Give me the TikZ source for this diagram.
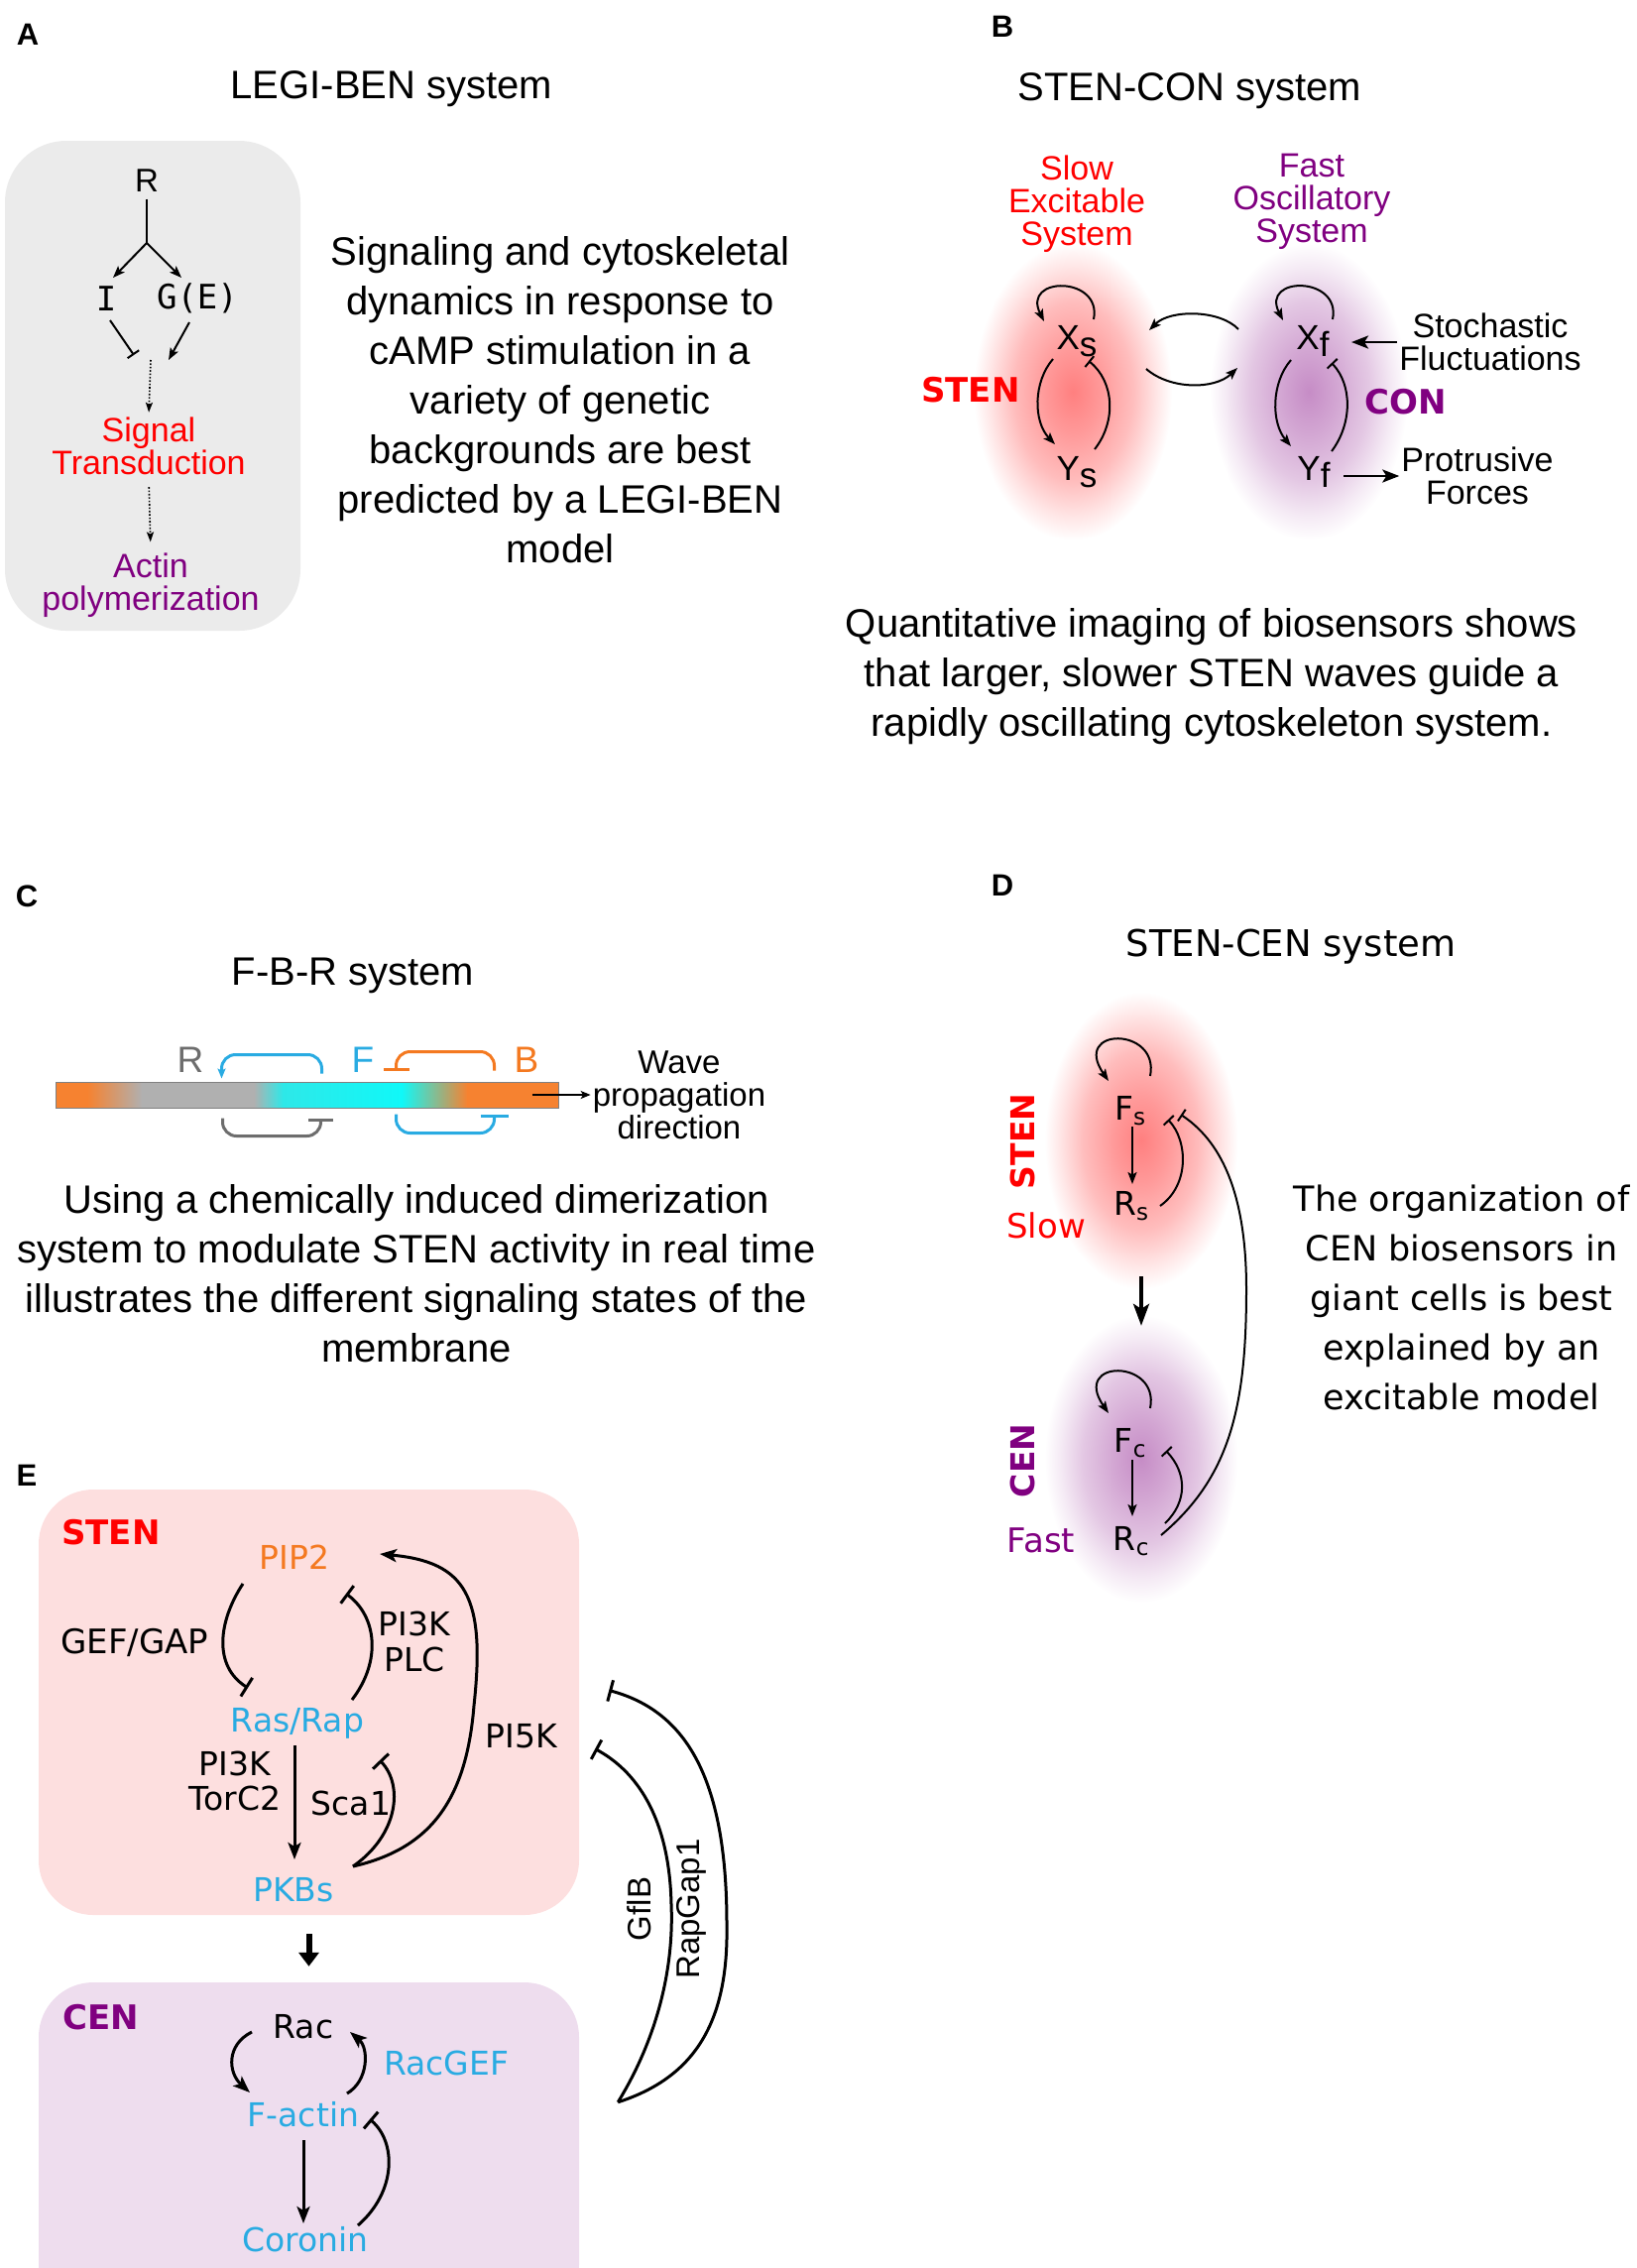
\documentclass[tikz,border=0pt]{standalone}
\usepackage{fontspec}
\setmainfont{Liberation Sans}
\newfontfamily\dv{DejaVu Sans}
\newfontfamily\dvm{DejaVu Sans Mono}
\usetikzlibrary{arrows.meta,calc,shapes.geometric}
\definecolor{sred}{HTML}{FF0000}
\definecolor{spurp}{HTML}{800080}
\definecolor{ecyan}{HTML}{29ABE2}
\definecolor{eorange}{HTML}{F47920}
\definecolor{agray}{HTML}{EBEBEB}
\definecolor{stenbg}{HTML}{FDDFDF}
\definecolor{cenbg}{HTML}{EEDDEE}
\definecolor{cgray}{HTML}{6D6D6D}
\definecolor{barorange}{HTML}{F68230}
\definecolor{bargray}{HTML}{B0B0B0}
\definecolor{barcyan}{HTML}{2EE8E8}
\definecolor{barcyan2}{HTML}{10F8F8}
\colorlet{gr0}{red!50!white}
\colorlet{gr1}{red!40!white}
\colorlet{gr2}{red!26!white}
\colorlet{gr3}{red!10!white}
\colorlet{gp0}{spurp!45!white}
\colorlet{gp1}{spurp!35!white}
\colorlet{gp2}{spurp!22!white}
\colorlet{gp3}{spurp!8!white}
\pgfdeclareradialshading{glowred}{\pgfpoint{0bp}{0bp}}{color(0bp)=(gr0); color(7bp)=(gr1); color(15bp)=(gr2); color(21bp)=(gr3); color(25bp)=(white); color(50bp)=(white)}
\pgfdeclareradialshading{glowpur}{\pgfpoint{0bp}{0bp}}{color(0bp)=(gp0); color(7bp)=(gp1); color(15bp)=(gp2); color(21bp)=(gp3); color(25bp)=(white); color(50bp)=(white)}
\begin{document}
\begin{tikzpicture}[x=1pt,y=-1pt,
  every node/.style={inner sep=2pt},
  lbl/.style={font=\bfseries\fontsize{31}{31}\selectfont},
  ttl/.style={font=\fontsize{40}{48}\selectfont},
  ttlD/.style={font=\dv\fontsize{37}{40}\selectfont},
  body/.style={align=center,font=\fontsize{40}{50}\selectfont},
  bodyD/.style={align=center,font=\dv\fontsize{35}{50}\selectfont},
  small/.style={align=center,font=\fontsize{34}{33}\selectfont},
  fx/.style={font=\fontsize{35}{35}\selectfont},
  fD/.style={font=\dv\fontsize{33}{33}\selectfont},
  fE/.style={align=center,font=\dv\fontsize{33}{36}\selectfont},
  boldlab/.style={font=\dv\bfseries\fontsize{34}{34}\selectfont},
  glowR/.style={ellipse,shading=glowred,inner sep=0},
  glowP/.style={ellipse,shading=glowpur,inner sep=0},
  ln/.style={line width=2pt},
  lnE/.style={line width=3pt},
  arrA/.style={-{Stealth[length=12pt,width=9pt,inset=2.5pt]}},
  inhA/.style={-{Bar[width=14pt]}},
  arrE/.style={-{Stealth[length=17pt,width=13pt,inset=4pt]}},
  inhE/.style={-{Bar[width=22pt]}},
  dotarr/.style={line width=1.6pt,dash pattern=on 1.6pt off 1.8pt,-{Stealth[length=10pt,width=7pt,inset=2pt]}},
  arcC/.style={line width=3pt,rounded corners=14pt}
]
\useasboundingbox (0,0) rectangle (1650,2287);

% ================= Panel A =================
\node[lbl] (labA) at (28,35) {A};
\node[ttl] (ttlA) at (395,90) {LEGI-BEN system};
\node[fill=agray,rounded corners=62pt,minimum width=298,minimum height=494,inner sep=0] (boxA) at (154,389) {};
\node[font=\fontsize{33}{33}\selectfont] (R) at (148,182) {R};
\coordinate (fork) at (148,245);
\node[font=\dvm\fontsize{34}{34}\selectfont] (I) at (107,301) {I};
\node[font=\dvm\fontsize{34}{34}\selectfont] (GE) at (199,301) {G(E)};
\draw[ln,shorten <=5pt] (R.south) -- (fork);
\draw[ln,arrA] (fork) -- ($(I)+(7,-21)$);
\draw[ln,arrA] (fork) -- ($(GE)+(-16,-21)$);
\coordinate (merge) at (152,363);
\draw[ln,inhA] ($(I)+(4,22)$) -- ($(merge)+(-17,-5)$);
\draw[ln,arrA] ($(GE)+(-8,24)$) -- ($(merge)+(18,0)$);
\node[small,text=sred] (sig) at (150,450) {Signal\\Transduction};
\node[small,text=spurp] (act) at (152,590) {Actin\\polymerization};
\draw[dotarr,shorten >=3pt] (merge) -- (sig.north);
\draw[dotarr,shorten <=10pt,shorten >=9pt] (sig.south) -- (act.north);
\node[body] (txtA) at (565,403) {Signaling and cytoskeletal\\dynamics in response to\\cAMP stimulation in a\\variety of genetic\\backgrounds are best\\predicted by a LEGI-BEN\\model};

% ================= Panel B =================
\node[glowR,minimum width=200,minimum height=300] (gS) at (1082,395) {};
\node[glowP,minimum width=200,minimum height=300] (gF) at (1320,395) {};
\node[lbl] (labB) at (1011,27) {B};
\node[ttl] (ttlB) at (1200,92) {STEN-CON system};
\node[small,text=sred] (slowB) at (1086,206) {Slow\\Excitable\\System};
\node[small,text=spurp] (fastB) at (1323,203) {Fast\\Oscillatory\\System};
\node[fx] (xs) at (1086,344) {X\raisebox{-0.2em}{s}};
\node[fx] (ys) at (1086,476) {Y\raisebox{-0.2em}{s}};
\node[fx] (xf) at (1324,344) {X\raisebox{-0.2em}{f}};
\node[fx] (yf) at (1325,476) {Y\raisebox{-0.2em}{f}};
\node[boldlab,text=sred] (stenB) at (979,393) {STEN};
\node[boldlab,text=spurp] (conB) at (1418,405) {CON};
% self loops
\draw[ln,arrA] ($(xs)+(17,-22)$) .. controls ($(xs)+(26,-66)$) and ($(xs)+(-56,-66)$) .. ($(xs)+(-33,-20)$);
\draw[ln,arrA] ($(xf)+(20,-22)$) .. controls ($(xf)+(29,-66)$) and ($(xf)+(-53,-66)$) .. ($(xf)+(-30,-21)$);
% X -> Y
\draw[ln,arrA] ($(xs)+(-24,18)$) .. controls ($(xs)+(-44,41)$) and ($(ys)+(-44,-51)$) .. ($(ys)+(-22,-28)$);
\draw[ln,arrA] ($(xf)+(-22,19)$) .. controls ($(xf)+(-42,42)$) and ($(yf)+(-43,-50)$) .. ($(yf)+(-23,-26)$);
% Y -| X
\draw[ln,inhA] ($(ys)+(18,-23)$) .. controls ($(ys)+(40,-51)$) and ($(xs)+(38,41)$) .. ($(xs)+(12,20)$);
\draw[ln,inhA] ($(yf)+(18,-21)$) .. controls ($(yf)+(39,-49)$) and ($(xf)+(40,44)$) .. ($(xf)+(19,22)$);
% coupling
\draw[ln,arrA] ($(xf)+(-75,-12)$) .. controls ($(xf)+(-94,-32)$) and ($(xs)+(94,-32)$) .. ($(xs)+(73,-11)$);
\draw[ln,arrA] ($(xs)+(70,28)$) .. controls ($(xs)+(94,49)$) and ($(xf)+(-99,49)$) .. ($(xf)+(-76,27)$);
\node[small] (stoch) at (1503,345) {Stochastic\\Fluctuations};
\node[small] (prot) at (1490,480) {Protrusive\\Forces};
\draw[line width=2.8pt,-{Stealth[length=17pt,width=13pt,inset=4pt]}] (stoch.west) -- ($(xf.center |- stoch.west)+(39,0)$);
\draw[line width=2.8pt,-{Stealth[length=17pt,width=13pt,inset=4pt]}] ($(yf.center |- prot.west)+(30,0)$) -- (prot.west);
\node[body] (txtB) at (1222,682) {Quantitative imaging of biosensors shows\\that larger, slower STEN waves guide a\\rapidly oscillating cytoskeleton system.};

% ================= Panel C =================
\node[lbl] (labC) at (27,904) {C};
\node[ttl] (ttlC) at (356,984) {F-B-R system};
\fill[barorange] (56,1091) rectangle (88.5,1117);
\shade[left color=barorange,right color=bargray] (88,1091) rectangle (143.5,1117);
\fill[bargray] (143,1091) rectangle (256.5,1117);
\shade[left color=bargray,right color=barcyan] (256,1091) rectangle (285.5,1117);
\shade[left color=barcyan,right color=barcyan2] (285,1091) rectangle (405.5,1117);
\shade[left color=barcyan2,right color=barorange] (405,1091) rectangle (471.5,1117);
\fill[barorange] (471,1091) rectangle (563,1117);
\node[draw=gray,line width=1pt,minimum width=507,minimum height=26,inner sep=0] (bar) at (309.5,1104) {};
\node[font=\fontsize{37}{37}\selectfont,text=cgray] (Rl) at (192,1069) {R};
\node[font=\fontsize{37}{37}\selectfont,text=ecyan] (Fl) at (366,1069) {F};
\node[font=\fontsize{37}{37}\selectfont,text=eorange] (Bl) at (531,1069) {B};
\draw[arcC,ecyan,-{Stealth[length=10pt,width=8pt,inset=2pt]}] ($(bar.north west)+(269,-8)$) -- ++(0,-19) -- ++(-101,0) -- ++(0,24);
\draw[arcC,eorange,-{Bar[width=26pt]}] ($(bar.north west)+(443,-11)$) -- ++(0,-19) -- ++(-99,0) -- ++(0,19);
\draw[arcC,cgray,-{Bar[width=25pt]}] ($(bar.south west)+(169,10)$) -- ++(0,18) -- ++(99,0) -- ++(0,-18);
\draw[arcC,ecyan,-{Bar[width=28pt]}] ($(bar.south west)+(344,6)$) -- ++(0,19) -- ++(99,0) -- ++(0,-19);
\node[font=\fontsize{33}{33}\selectfont,align=center] (wave) at (685,1104) {Wave\\propagation\\direction};
\draw[line width=1.6pt,-{Stealth[length=10pt,width=8pt,inset=2.5pt]}] ([xshift=-27pt]bar.east) -- (wave.west);
\node[body] (txtC) at (420,1284) {Using a chemically induced dimerization\\system to modulate STEN activity in real time\\illustrates the different signaling states of the\\membrane};

% ================= Panel D =================
\node[lbl] (labD) at (1011,893) {D};
\node[ttlD] (ttlD) at (1302,955) {STEN-CEN system};
\node[glowR,minimum width=195,minimum height=300] (gSD) at (1151,1150) {};
\node[glowP,minimum width=195,minimum height=290] (gCD) at (1151,1471) {};
\node[fD] (fs) at (1140,1120) {F\textsubscript{s}};
\node[fD] (rs) at (1141,1216) {R\textsubscript{s}};
\node[fD] (fc) at (1140,1455) {F\textsubscript{c}};
\node[fD] (rc) at (1141,1554) {R\textsubscript{c}};
\draw[ln,arrA] ($(fs)+(20,-35)$) .. controls ($(fs)+(30,-85)$) and ($(fs)+(-60,-85)$) .. ($(fs)+(-22,-30)$);
\draw[ln,arrA] ($(fc)+(20,-35)$) .. controls ($(fc)+(30,-85)$) and ($(fc)+(-60,-85)$) .. ($(fc)+(-22,-30)$);
\draw[ln,arrA] ($(fs)+(2,16)$) -- ($(rs)+(1,-22)$);
\draw[ln,arrA] ($(fc)+(2,17)$) -- ($(rc)+(1,-25)$);
\draw[ln,inhA] ($(rs)+(29,0)$) .. controls ($(rs)+(59,-21)$) and ($(fs)+(58,30)$) .. ($(fs)+(38,9)$);
\draw[ln,inhA] ($(rc)+(34,-18)$) .. controls ($(rc)+(57,-40)$) and ($(fc)+(57,30)$) .. ($(fc)+(36,8)$);
\draw[ln,inhA] ($(rc)+(30,-6)$) .. controls ($(rc)+(99,-64)$) and ($(rc)+(116,-134)$) .. ($(rc)+(116,-254)$)
   .. controls ($(rc)+(116,-354)$) and ($(fs)+(90,30)$) .. ($(fs)+(51,4)$);
\draw[line width=3.5pt,-{Stealth[length=22pt,width=16pt,inset=5pt]}] ($(gSD.south)+(0,-13)$) -- ($(gCD.north)+(0,11)$);
\node[rotate=90,font=\dv\bfseries\fontsize{33}{33}\selectfont,text=sred] (stenD) at (1031,1151) {STEN};
\node[rotate=90,font=\dv\bfseries\fontsize{33}{33}\selectfont,text=spurp] (cenD) at (1031,1473) {CEN};
\node[font=\dv\fontsize{34}{34}\selectfont,text=sred] (slowD) at (1055,1236) {Slow};
\node[font=\dv\fontsize{34}{34}\selectfont,text=spurp] (fastD) at (1050,1553) {Fast};
\node[bodyD] (txtD) at (1474,1308) {The organization of\\CEN biosensors in\\giant cells is best\\explained by an\\excitable model};

% ================= Panel E =================
\node[lbl] (labE) at (27,1488) {E};
\node[fill=stenbg,rounded corners=55pt,minimum width=545,minimum height=429,inner sep=0] (stenbox) at (311.5,1716.5) {};
\node[fill=cenbg,rounded corners=55pt,minimum width=545,minimum height=340,inner sep=0] (cenbox) at (311.5,2169) {};
\node[boldlab,text=sred] (stenE) at (112,1545) {STEN};
\node[boldlab,text=spurp] (cenE) at (102,2034) {CEN};
\node[fE,text=eorange] (pip2) at (297,1570) {PIP2};
\node[fE,font=\dv\fontsize{34}{36}\selectfont] (gefgap) at (136,1656) {GEF/GAP};
\node[fE] (pi3kplc) at (418,1655) {PI3K\\PLC};
\node[fE,text=ecyan] (rasrap) at (300,1738) {Ras/Rap};
\node[fE,font=\dv\fontsize{33}{35}\selectfont] (pi3ktor) at (237,1796) {PI3K\\TorC2};
\node[fE] (sca1) at (354,1818) {Sca1};
\node[fE] (pi5k) at (526,1751) {PI5K};
\node[fE,text=ecyan] (pkbs) at (296,1906) {PKBs};
\node[fE] (rac) at (306,2044) {Rac};
\node[fE,text=ecyan] (racgef) at (450,2080) {RacGEF};
\node[fE,text=ecyan] (factin) at (306,2132) {F-actin};
\node[fE,text=ecyan] (coronin) at (308,2258) {Coronin};
\draw[lnE,inhE] ($(pip2)+(-52,27)$) .. controls (220,1635) and (215,1680) .. ($(rasrap)+(-50,-36)$);
\draw[lnE,inhE] ($(rasrap)+(55,-24)$) .. controls (385,1675) and (380,1630) .. ($(pip2)+(52,37)$);
\draw[lnE,arrE] ($(rasrap)+(-3,22)$) -- ($(pkbs)+(1,-31)$);
\draw[lnE,inhE] ($(pkbs)+(60,-24)$) .. controls (402,1850) and (407,1800) .. ($(rasrap)+(83,37)$);
\draw[lnE,arrE] ($(pkbs)+(60,-24)$) .. controls (430,1865) and (470,1820) .. (478,1720)
   .. controls (490,1610) and (470,1575) .. ($(pip2)+(86,-3)$);
\draw[line width=6pt,-{Triangle[length=14pt,width=20pt]},shorten <=19pt,shorten >=16pt] (stenbox.south) -- (cenbox.north);
\draw[lnE,arrE] ($(rac)+(-52,5)$) .. controls (228,2062) and (230,2090) .. ($(factin)+(-54,-22)$);
\draw[lnE,arrE] ($(factin)+(44,-21)$) .. controls (372,2098) and (372,2065) .. ($(rac)+(47,5)$);
\draw[lnE,arrE] ($(factin)+(0,26)$) -- ($(coronin)+(-2,-16)$);
\draw[lnE,inhE] ($(coronin)+(53,-14)$) .. controls (400,2210) and (400,2160) .. ($(factin)+(67,5)$);
\coordinate (tipE) at ($(cenbox.north east)+(39,121)$);
\coordinate (gflbEnd) at ($(stenbox.east)+(16,47)$);
\coordinate (rapEnd) at ($(stenbox.east)+(30,-12)$);
\draw[lnE,inhE] (tipE) .. controls (660,2060) and (680,1990) .. (677,1920) .. controls (675,1830) and (640,1785) .. (gflbEnd);
\draw[lnE,inhE] (tipE) .. controls (700,2095) and (735,2040) .. (733,1940) .. controls (733,1790) and (690,1725) .. (rapEnd);
\node[rotate=90,font=\fontsize{33}{33}\selectfont] (gflb) at (645,1925) {GflB};
\node[rotate=90,font=\fontsize{33}{33}\selectfont] (rapgap) at (697,1925) {RapGap1};
\end{tikzpicture}
\end{document}
